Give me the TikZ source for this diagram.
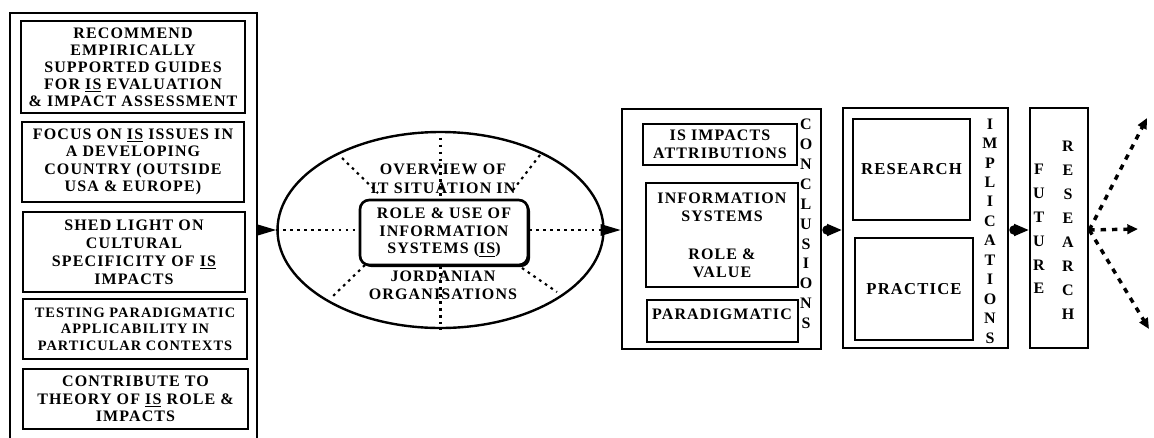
\documentclass[tikz,border=0pt]{standalone}
\usepackage{fontspec}
\setmainfont{Liberation Serif}[LetterSpace=7]
\usetikzlibrary{shapes.geometric,arrows.meta,shadows}
\newcommand\dfont[2]{\bfseries\fontsize{#1}{#2}\selectfont}
% \mybox[options]{name}{x1}{y1}{x2}{y2}{text}
\newcommand\mybox[7][]{%
  \node[box, minimum width={(#5-#3)*0.75pt}, minimum height={(#6-#4)*0.75pt}, #1]
    (#2) at ({(#3+#5)/2},{(#4+#6)/2}) {#7};}
\begin{document}
\begin{tikzpicture}[x=0.75pt,y=-0.75pt,
  box/.style={draw, line width=2pt, inner sep=0pt, align=center},
  txt/.style={align=center, inner sep=0pt},
  col/.style={align=center, inner sep=0pt},
  dotline/.style={line width=1.6pt, dash pattern=on 2pt off 3.2pt},
  bigarrow/.style={line width=1.5pt, -{Triangle[length=15pt,width=8.5pt]}},
  dotarrow/.style={line width=1.5pt, {Circle[length=7pt]}-{Triangle[length=11pt,width=9pt]}},
  futarrow/.style={line width=2.6pt, dash pattern=on 4pt off 4.5pt, -{Triangle[length=8pt,width=7pt]}}
]
\useasboundingbox (0,0) rectangle (1154,437);
\clip (0,0) rectangle (1154,437);

% ---- left objectives box
\mybox{obj}{10}{13}{257}{460}{}
\mybox[font=\dfont{12}{12.8}]{b1}{21}{21}{245}{113}
  {RECOMMEND\\EMPIRICALLY\\SUPPORTED GUIDES\\FOR \underline{IS} EVALUATION\\\& IMPACT ASSESSMENT}
\mybox[font=\dfont{12}{13}]{b2}{22}{122}{244}{202}
  {FOCUS ON \underline{IS} ISSUES IN\\A DEVELOPING\\COUNTRY (OUTSIDE\\USA \& EUROPE)}
\mybox[font=\dfont{12}{13.4}]{b3}{23}{212}{245}{292}
  {SHED LIGHT ON\\CULTURAL\\SPECIFICITY OF \underline{IS}\\IMPACTS}
\mybox[font=\dfont{10.8}{12.3}]{b4}{23}{299}{247}{359}
  {TESTING PARADIGMATIC\\APPLICABILITY IN\\PARTICULAR CONTEXTS}
\mybox[font=\dfont{12}{13}]{b5}{23}{369}{248}{429}
  {CONTRIBUTE TO\\THEORY OF \underline{IS} ROLE \&\\IMPACTS}

% ---- ellipse
\node[draw, ellipse, line width=1.8pt, inner sep=0pt,
      minimum width=244.5pt, minimum height=147pt] (ell) at (440.5,230) {};
\node[draw, line width=2pt, rounded corners=7pt, inner sep=0pt, fill=white,
      drop shadow={opacity=1, shadow xshift=1.6pt, shadow yshift=-1.6pt, fill=black},
      minimum width=126pt, minimum height=48.75pt, align=center,
      font=\dfont{12}{13.4}] (role) at (444,232.5)
  {ROLE \& USE OF\\INFORMATION\\SYSTEMS (\underline{IS})};
\node[txt, font=\dfont{12}{14.2}] (ov) at (443,179) {OVERVIEW OF\\IT SITUATION IN};
\node[txt, font=\dfont{12}{13.6}] (jo) at (443,285) {JORDANIAN\\ORGANISATIONS};

\coordinate (d1a) at (342,158); \coordinate (d1b) at (378,193);
\coordinate (d2a) at (540,155); \coordinate (d2b) at (513,190);
\coordinate (d3a) at (365,265); \coordinate (d3b) at (332,297);
\coordinate (d4a) at (522,268); \coordinate (d4b) at (557,292);
\draw[dotline] (ell.north) -- (ell.north |- role.north);
\draw[dotline] (ell.south |- role.south) -- (ell.south);
\draw[dotline] (ell.west) -- (ell.west -| role.west);
\draw[dotline] (ell.east -| role.east) -- (ell.east);
\draw[dotline] (d1a) -- (d1b);
\draw[dotline] (d2a) -- (d2b);
\draw[dotline] (d3a) -- (d3b);
\draw[dotline] (d4a) -- (d4b);

% ---- conclusions
\mybox{conc}{622}{109}{821}{349}{}
\mybox[font=\dfont{12}{13.5}]{c1}{643}{124}{797}{165}{IS IMPACTS\\ATTRIBUTIONS}
\mybox[font=\dfont{12}{13.5}]{c2}{646}{183}{798}{287}{INFORMATION\\SYSTEMS\\[15pt]ROLE \&\\VALUE}
\mybox{c3}{647}{300}{798}{342}{}
\node[txt, font=\dfont{12}{13}] (c3t) at (722,314) {PARADIGMATIC};
\node[col, font=\dfont{12}{14.9}] (conct) at (806,224)
  {C\\O\\N\\C\\L\\U\\S\\I\\O\\N\\S};

% ---- implications
\mybox{impl}{843}{108}{1008}{348}{}
\mybox[font=\dfont{12.5}{13}]{res}{853}{119}{970}{220}{RESEARCH}
\mybox[font=\dfont{12.5}{13}]{prac}{855}{238}{973}{340}{PRACTICE}
\node[col, font=\dfont{12}{14.6}] (implt) at (990,231)
  {I\\M\\P\\L\\I\\C\\A\\T\\I\\O\\N\\S};

% ---- future research
\mybox{fut}{1030}{108}{1088}{348}{}
\node[col, font=\dfont{12}{17.9}] (futt) at (1039,229) {F\\U\\T\\U\\R\\E};
\node[col, font=\dfont{12}{18}] (rest) at (1068,230) {R\\E\\S\\E\\A\\R\\C\\H};

\coordinate (f1) at (1147,118);
\coordinate (f2) at (1138,229);
\coordinate (f3) at (1149,329);

% ---- connectors
\draw[bigarrow] (obj.east |- ell.west) -- (ell.west);
\draw[bigarrow] (ell.east) -- (conc.west |- ell.east);
\draw[dotarrow] (conc.east |- 0,230) -- (impl.west |- 0,230);
\draw[dotarrow] (impl.east |- 0,230) -- (fut.west |- 0,230);
\draw[futarrow] (fut.east |- 0,230) -- (f1);
\draw[futarrow] (fut.east |- 0,230) -- (f2);
\draw[futarrow] (fut.east |- 0,230) -- (f3);
\end{tikzpicture}
\end{document}
